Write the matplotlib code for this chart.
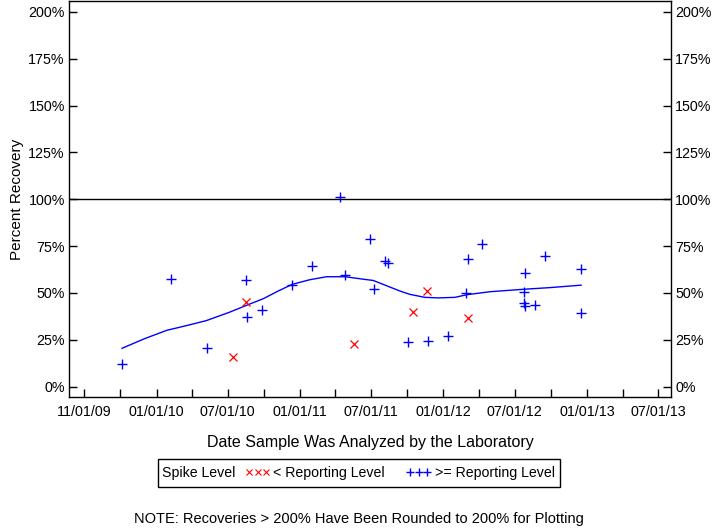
import matplotlib
matplotlib.use('Agg')
import matplotlib.pyplot as plt
import matplotlib.dates as mdates
from matplotlib.lines import Line2D
from matplotlib.patches import Rectangle
import numpy as np

plt.rcParams['font.family'] = ['Liberation Sans', 'DejaVu Sans']

# recoveries below the reporting level (red x)
below_dates = ['2010-07-14', '2010-08-18', '2011-05-19', '2011-10-17',
               '2011-11-21', '2012-03-05']
below_pct = [15.8, 45.3, 22.5, 39.8, 51.2, 36.8]

# recoveries at or above the reporting level (blue +)
above_dates = ['2009-10-05', '2010-02-07', '2010-05-09', '2010-08-17',
               '2010-08-20', '2010-09-27', '2010-12-12', '2011-02-01',
               '2011-04-13', '2011-04-26', '2011-06-29', '2011-07-08',
               '2011-08-06', '2011-08-14', '2011-10-04', '2011-11-22',
               '2012-01-14', '2012-02-29', '2012-03-05', '2012-04-09',
               '2012-07-27', '2012-07-25', '2012-07-25', '2012-07-28',
               '2012-08-22', '2012-09-17', '2012-12-17', '2012-12-17']
above_pct = [12.2, 57.3, 20.4, 57.0,
             37.0, 40.6, 54.1, 64.2,
             101.4, 59.3, 78.8, 52.2,
             67.1, 66.2, 23.6, 24.1,
             26.8, 49.9, 68.2, 75.9,
             60.7, 50.4, 44.8, 43.2,
             43.7, 69.7, 62.8, 39.5]

# smoothed trend
trend_dates = ['2009-10-05', '2009-12-01', '2010-01-27', '2010-03-20',
               '2010-05-08', '2010-07-05', '2010-08-20', '2010-09-30',
               '2010-11-05', '2010-12-12', '2011-01-26', '2011-03-10',
               '2011-04-26', '2011-06-11', '2011-07-07', '2011-08-18',
               '2011-09-15', '2011-10-08', '2011-11-15', '2011-12-20',
               '2012-01-31', '2012-03-01', '2012-04-29', '2012-07-23',
               '2012-09-29', '2012-12-17']
trend_pct = [20.4, 25.5, 30.0, 32.6,
             35.2, 39.6, 43.5, 46.9,
             50.8, 54.5, 57.0, 58.6,
             58.6, 57.3, 56.6, 53.1,
             50.8, 49.2, 47.6, 47.3,
             47.6, 49.0, 50.6, 51.9,
             52.8, 54.1]

tick_dates = ['2009-07-01', '2010-01-01', '2010-07-01', '2011-01-01',
              '2011-07-01', '2012-01-01', '2012-07-01', '2013-01-01',
              '2013-07-01']
tick_labels = ['11/01/09', '01/01/10', '07/01/10', '01/01/11', '07/01/11',
               '01/01/12', '07/01/12', '01/01/13', '07/01/13']
y_ticks = [0, 25, 50, 75, 100, 125, 150, 175, 200]

fig = plt.figure(figsize=(7.2, 5.28), dpi=100)
ax = fig.add_axes([69 / 720, 1 - 397 / 528, 602 / 720, 396 / 528])

d = lambda s: np.array(s, dtype='datetime64[D]')

ax.axhline(100, color='black', lw=1)
ax.plot(d(trend_dates), trend_pct, color='blue', lw=1)
ax.plot(d(below_dates), below_pct, 'x', color='red', ms=6, mew=0.9)
ax.plot(d(above_dates), above_pct, '+', color='blue', ms=7, mew=1.0)

ax.set_xlim(np.datetime64('2009-05-23'), np.datetime64('2013-08-03'))
ax.set_ylim(-5.6, 205.8)

major = mdates.date2num(d(tick_dates))
ax.set_xticks(major)
ax.set_xticklabels(tick_labels)
ax.set_xticks((major[:-1] + major[1:]) / 2, minor=True)
ax.set_yticks(y_ticks)
ax.set_yticklabels(['%d%%' % v for v in y_ticks])

ax.tick_params(axis='both', which='both', direction='in', length=6,
               width=1, labelsize=10.3, color='black')
ax.tick_params(axis='y', right=True, labelright=True, pad=3)
ax.tick_params(axis='x', pad=6)
for s in ax.spines.values():
    s.set_linewidth(1)

ax.set_xlabel('Date Sample Was Analyzed by the Laboratory', fontsize=11.5,
              labelpad=11)
ax.set_ylabel('Percent Recovery', fontsize=11, labelpad=3)

# legend box
fig.patches.append(Rectangle((158 / 720, 1 - 487 / 528), 402 / 720, 28 / 528,
                             transform=fig.transFigure, fill=False,
                             ec='black', lw=1))
fig.text(162 / 720, 1 - 473 / 528, 'Spike Level', va='center', fontsize=10.2)
handles = [Line2D([], [], ls='none', marker='x', color='red', ms=5, mew=0.8),
           Line2D([], [], ls='none', marker='+', color='blue', ms=6, mew=1.0)]
fig.legend(handles, ['< Reporting Level', '>= Reporting Level'],
           loc='center left', bbox_to_anchor=(245 / 720, 1 - 473 / 528),
           ncol=2, frameon=False, numpoints=3, handlelength=1.8,
           handletextpad=0.2, columnspacing=1.5, borderpad=0,
           borderaxespad=0, fontsize=10.2)

fig.text(359 / 720, 1 - 519 / 528,
         'NOTE: Recoveries > 200% Have Been Rounded to 200% for Plotting',
         ha='center', va='center', fontsize=10.5)

fig.savefig('out.png', dpi=100)
